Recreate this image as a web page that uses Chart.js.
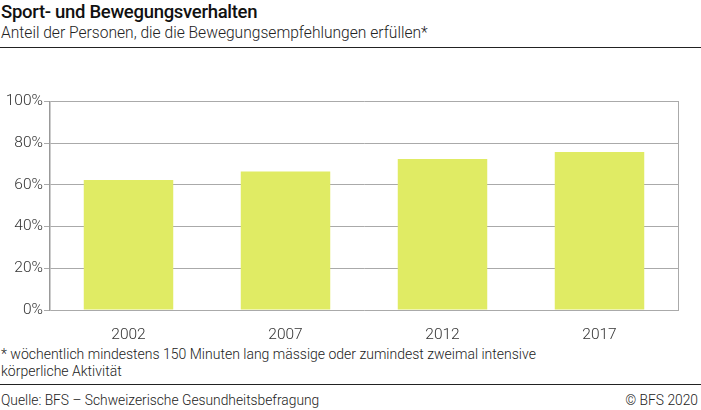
<!DOCTYPE html>
<html>
<head>
<meta charset="utf-8">
<script src="https://cdn.jsdelivr.net/npm/chart.js@4.4.0/dist/chart.umd.min.js"></script>
<style>
  body { margin: 0; background: #fff; font-family: Roboto, "Noto Sans", sans-serif; color: #222; }
  #wrap { position: relative; width: 701px; height: 410px; overflow: hidden; }
  .title { position: absolute; left: 1px; top: 1px; font-size: 18.5px; font-weight: 500; color: #111; letter-spacing: -0.3px; }
  .sub { position: absolute; left: 1px; top: 24px; font-size: 15.6px; font-weight: 300; color: #222; }
  .rule { position: absolute; left: 0; width: 701px; height: 0; border-top: 1.5px solid #222; }
  .note { position: absolute; left: 1px; top: 346px; font-size: 14px; font-weight: 300; line-height: 17px; color: #222; }
  .src { position: absolute; left: 1px; top: 392px; font-size: 13.8px; font-weight: 300; color: #222; }
  .copy { position: absolute; right: 3px; top: 392px; font-size: 13.8px; font-weight: 300; color: #222; }
  #box { position: absolute; left: 0; top: 91px; width: 701px; height: 255px; }
</style>
</head>
<body>
<div id="wrap">
  <div class="title">Sport- und Bewegungsverhalten</div>
  <div class="sub">Anteil der Personen, die die Bewegungsempfehlungen erfüllen*</div>
  <div class="rule" style="top:47px"></div>
  <div id="box"><canvas id="chart"></canvas></div>
  <div class="note">* wöchentlich mindestens 150 Minuten lang mässige oder zumindest zweimal intensive<br>körperliche Aktivität</div>
  <div class="rule" style="top:384px"></div>
  <div class="src">Quelle: BFS – Schweizerische Gesundheitsbefragung</div>
  <div class="copy">© BFS 2020</div>
</div>
<script>
// data
const years = ['2002', '2007', '2012', '2017'];
const shares = [62.3, 66.4, 72.3, 75.7];
const yTicks = [0, 20, 40, 60, 80, 100];

const barColor = '#e0eb64';
const gridColor = '#aaaaaa';

const ctx = document.getElementById('chart').getContext('2d');
new Chart(ctx, {
  type: 'bar',
  data: {
    labels: years,
    datasets: [{
      data: shares,
      backgroundColor: barColor,
      borderWidth: 0,
      categoryPercentage: 0.57,
      barPercentage: 1
    }]
  },
  options: {
    responsive: true,
    maintainAspectRatio: false,
    animation: false,
    layout: { padding: { left: 0, right: 23, top: 10, bottom: 0 } },
    plugins: { legend: { display: false }, tooltip: { enabled: false } },
    scales: {
      x: {
        grid: { display: false },
        border: { display: false },
        ticks: { color: '#333', font: { family: 'Roboto', size: 15.5, weight: 300 }, padding: 8 },
        afterFit: (s) => { s.height = 36; }
      },
      y: {
        min: 0,
        max: 100,
        afterBuildTicks: (s) => { s.ticks = yTicks.map(v => ({ value: v })); },
        grid: { color: gridColor, tickLength: 6, tickColor: gridColor },
        border: { color: '#999', width: 1.5 },
        ticks: {
          color: '#333',
          padding: 1,
          font: { family: 'Roboto', size: 15.5, weight: 300 },
          callback: (v) => v + '%'
        },
        afterFit: (s) => { s.width = 50; }
      },
      // right-hand frame line only
      y2: {
        display: true,
        position: 'right',
        min: 0,
        max: 100,
        grid: { drawOnChartArea: false, drawTicks: false },
        border: { color: gridColor, width: 1 },
        ticks: { display: false },
        afterFit: (s) => { s.width = 0; }
      }
    }
  }
});
</script>
</body>
</html>
